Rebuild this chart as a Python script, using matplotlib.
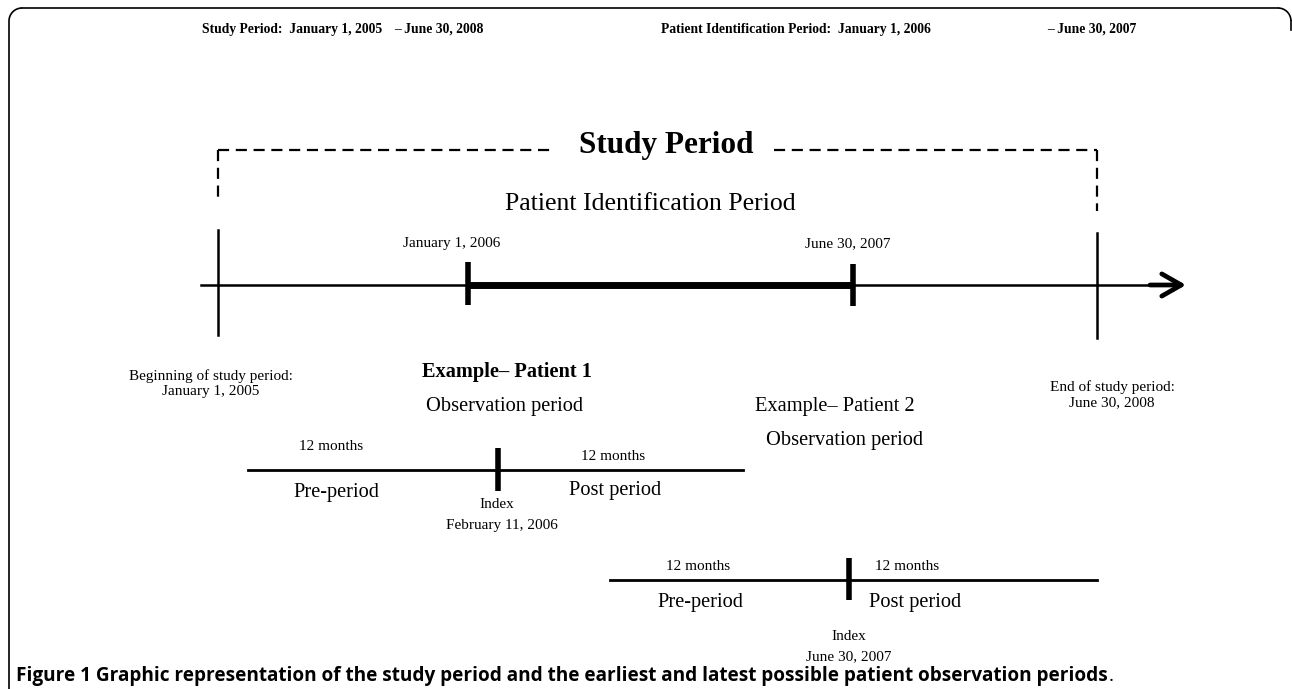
import matplotlib
matplotlib.use("Agg")
import matplotlib.pyplot as plt
from matplotlib.patches import Arc

# ---- content ----
header_left = ["Study Period:  January 1, 2005", "– June 30, 2008"]
header_right = ["Patient Identification Period:  January 1, 2006", "– June 30, 2007"]
title_study = "Study Period"
title_pid = "Patient Identification Period"
main_dates = ["January 1, 2006", "June 30, 2007"]
start_label = "Beginning of study period:\nJanuary 1, 2005"
end_label = "End of study period:\nJune 30, 2008"
patients = ["Example– Patient 1", "Example– Patient 2"]
obs_label = "Observation period"
period_len = ["12 months", "12 months"]
period_names = ["Pre-period", "Post period"]
index_dates = ["February 11, 2006", "June 30, 2007"]
caption_bold = "Figure 1 Graphic representation of the study period and the earliest and latest possible patient observation periods"

W, H = 1292, 689
fig = plt.figure(figsize=(W / 100, H / 100), dpi=100)
ax = fig.add_axes([0, 0, 1, 1])
ax.set_xlim(0, W)
ax.set_ylim(H, 0)
ax.axis("off")

serif = "Liberation Serif"
sans = "Open Sans"
fs_small = 11
fs_mid = 14.7
fs_pid = 18.5
fs_title = 22.5

# frame (y axis inverted: angles measured with y downward)
lw_f = 1.2
ax.plot([9, 9], [21, H + 5], color="black", lw=lw_f, solid_capstyle="butt")
ax.plot([22, 1278], [8, 8], color="black", lw=lw_f)
ax.add_patch(Arc((22, 21), 26, 26, theta1=180, theta2=270, color="black", lw=lw_f))
ax.add_patch(Arc((1278, 21), 26, 26, theta1=270, theta2=360, color="black", lw=lw_f))
ax.plot([1291, 1291], [21, 30], color="black", lw=lw_f)

# header
hk = dict(fontfamily=serif, fontweight="bold", fontsize=9.8, va="center", ha="left")
ax.text(202, 29, header_left[0], **hk)
ax.text(394, 29, header_left[1], **hk)
ax.text(661, 29, header_right[0], **hk)
ax.text(1047, 29, header_right[1], **hk)

# study period bracket
dk = dict(color="black", lw=1.6, dashes=(5, 3))
ax.plot([218, 550], [150, 150], **dk)
ax.plot([774, 1097], [150, 150], **dk)
ax.plot([218, 218], [150, 203], **dk)
ax.plot([1097, 1097], [150, 211], **dk)
ax.text(666, 145, title_study, fontfamily=serif, fontweight="bold", fontsize=fs_title,
        ha="center", va="center")
ax.text(650, 204, title_pid, fontfamily=serif, fontsize=fs_pid, ha="center", va="center")

# main timeline
ax.plot([201, 1170], [285, 285], color="black", lw=1.8)
ax.annotate("", xy=(1186, 285), xytext=(1150, 285),
            arrowprops=dict(arrowstyle="->,head_length=1.4,head_width=0.8",
                            lw=3.4, color="black", shrinkA=0, shrinkB=0))
ax.plot([218, 218], [230, 335], color="black", lw=1.8)
ax.plot([1097, 1097], [233, 338], color="black", lw=1.8)
ax.plot([468, 853], [285, 285], color="black", lw=5, solid_capstyle="butt")
ax.plot([468, 468], [262, 305], color="black", lw=4, solid_capstyle="butt")
ax.plot([853, 853], [264, 306], color="black", lw=4, solid_capstyle="butt")
ax.text(452, 244, main_dates[0], fontfamily=serif, fontsize=fs_small, ha="center", va="center")
ax.text(848, 244, main_dates[1], fontfamily=serif, fontsize=fs_small, ha="center", va="center")

ax.text(211, 384, start_label, fontfamily=serif, fontsize=fs_small, ha="center", va="center",
        linespacing=1.2)
ax.text(1112, 395, end_label, fontfamily=serif, fontsize=fs_small, ha="center", va="center",
        linespacing=1.2)

# patient 1
ax.text(507, 372, patients[0], fontfamily=serif, fontweight="bold", fontsize=fs_mid,
        ha="center", va="center")
ax.text(505, 406, obs_label, fontfamily=serif, fontsize=fs_mid, ha="center", va="center")
ax.plot([248, 743], [470, 470], color="black", lw=2)
ax.plot([498, 498], [448, 491], color="black", lw=4, solid_capstyle="butt")
ax.text(331, 447, period_len[0], fontfamily=serif, fontsize=fs_small, ha="center", va="center")
ax.text(613, 456, period_len[1], fontfamily=serif, fontsize=fs_small, ha="center", va="center")
ax.text(336, 492, period_names[0], fontfamily=serif, fontsize=fs_mid, ha="center", va="center")
ax.text(615, 491, period_names[1], fontfamily=serif, fontsize=fs_mid, ha="center", va="center")
ax.text(497, 504, "Index", fontfamily=serif, fontsize=fs_small, ha="center", va="center")
ax.text(502, 525, index_dates[0], fontfamily=serif, fontsize=fs_small, ha="center", va="center")

# patient 2
ax.text(835, 406, patients[1], fontfamily=serif, fontsize=fs_mid, ha="center", va="center")
ax.text(845, 440, obs_label, fontfamily=serif, fontsize=fs_mid, ha="center", va="center")
ax.plot([610, 1097], [580, 580], color="black", lw=2)
ax.plot([849, 849], [558, 600], color="black", lw=4, solid_capstyle="butt")
ax.text(698, 566, period_len[0], fontfamily=serif, fontsize=fs_small, ha="center", va="center")
ax.text(907, 566, period_len[1], fontfamily=serif, fontsize=fs_small, ha="center", va="center")
ax.text(700, 602, period_names[0], fontfamily=serif, fontsize=fs_mid, ha="center", va="center")
ax.text(915, 602, period_names[1], fontfamily=serif, fontsize=fs_mid, ha="center", va="center")
ax.text(849, 636, "Index", fontfamily=serif, fontsize=fs_small, ha="center", va="center")
ax.text(849, 657, index_dates[1], fontfamily=serif, fontsize=fs_small, ha="center", va="center")

# caption
cy = 676
t = ax.text(16, cy, caption_bold, fontfamily=sans, fontweight="bold", fontsize=13.7,
            ha="left", va="center")
fig.canvas.draw()
bb = t.get_window_extent()
ax.text(bb.x1 + 1, cy, ".", fontfamily=sans, fontsize=13.7, ha="left", va="center")

fig.savefig("out.png", dpi=100)
